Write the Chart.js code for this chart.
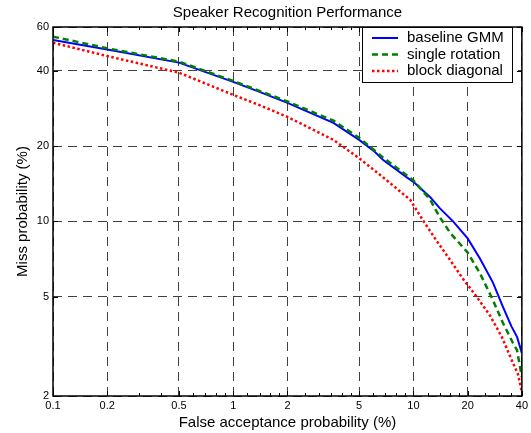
<!DOCTYPE html>
<html>
<head>
<meta charset="utf-8">
<script src="https://cdn.jsdelivr.net/npm/chart.js@4.4.1/dist/chart.umd.min.js"></script>
<style>
  html, body { margin: 0; padding: 0; background: #fff; }
</style>
</head>
<body>
<canvas id="detChart" width="531" height="433"></canvas>
<script>
// ── DATA ──────────────────────────────────────────────────────
const xTicks = [0.1, 0.2, 0.5, 1, 2, 5, 10, 20, 40];
const yTicks = [2, 5, 10, 20, 40, 60];
const xMinorTicks = [0.3, 0.4, 0.6, 0.7, 0.8, 0.9, 1.2, 1.4, 1.6, 1.8, 2.5, 3, 3.5, 4, 4.5, 6, 7, 8, 9, 12, 14, 16, 18, 25, 30, 35];

const seriesNames = ["baseline GMM", "single rotation", "block diagonal"];

// false acceptance (%) / miss (%) pairs per system
const blueFa   = [0.1, 0.2, 0.5, 1, 1.4, 2, 3.6, 5, 6.1, 6.8, 9.2, 10, 12.4, 14, 16.6, 20, 23.4, 27.6, 31.4, 35, 37.6, 40];
const blueMiss = [53.2, 48.8, 43.2, 36.2, 33.0, 29.8, 24.8, 21.2, 19.0, 17.6, 15.0, 14.4, 12.5, 11.3, 10.0, 8.55, 7.1, 5.7, 4.55, 3.8, 3.45, 2.97];

const greenFa   = [0.1, 0.2, 0.5, 1, 2, 3.6, 5, 6.8, 10, 12.4, 14, 16, 20, 23.4, 27.6, 31.4, 35.7, 37.6, 40];
const greenMiss = [54.9, 49.3, 43.6, 36.5, 30.2, 25.3, 21.6, 18.0, 14.6, 12.2, 10.4, 9.0, 7.5, 6.2, 4.85, 3.92, 3.26, 3.05, 2.38];

const redFa   = [0.1, 0.2, 0.5, 1, 1.4, 2, 3.6, 5, 6.8, 9.6, 11.3, 13.4, 16, 18.8, 22.5, 26.6, 31, 35, 38, 40];
const redMiss = [51.9, 45.9, 39.4, 32.1, 29.2, 26.2, 21.2, 17.9, 15.0, 12.2, 10.1, 8.4, 7.0, 5.9, 4.98, 4.2, 3.44, 2.8, 2.45, 2.08];

const FONT = "'Liberation Sans', Arial, Helvetica, sans-serif";
Chart.defaults.font.family = FONT;
Chart.defaults.color = "#000";

function pairs(xs, ys) {
  return xs.map((x, i) => ({ x: x, y: ys[i] }));
}

// ── FRAME, TICKS, TITLE, LEGEND (matlab look) ────────────────
const matlabFrame = {
  id: "matlabFrame",
  afterDraw(chart) {
    const ctx = chart.ctx;
    const a = chart.chartArea;
    const sx = chart.scales.x, sy = chart.scales.y;

    ctx.save();
    ctx.strokeStyle = "#000";
    ctx.lineWidth = 1;

    // tick marks inward, all 4 sides
    ctx.beginPath();
    xTicks.forEach(v => {
      const p = Math.round(sx.getPixelForValue(v)) + 0.5;
      ctx.moveTo(p, a.bottom); ctx.lineTo(p, a.bottom - 5);
      ctx.moveTo(p, a.top);    ctx.lineTo(p, a.top + 5);
    });
    xMinorTicks.forEach(v => {
      const p = Math.round(sx.getPixelForValue(v)) + 0.5;
      ctx.moveTo(p, a.bottom); ctx.lineTo(p, a.bottom - 3);
      ctx.moveTo(p, a.top);    ctx.lineTo(p, a.top + 3);
    });
    yTicks.forEach(v => {
      const p = Math.round(sy.getPixelForValue(v)) + 0.5;
      ctx.moveTo(a.left, p);  ctx.lineTo(a.left + 5, p);
      ctx.moveTo(a.right, p); ctx.lineTo(a.right - 5, p);
    });
    ctx.stroke();

    // box
    ctx.lineWidth = 1.5;
    ctx.strokeRect(a.left, a.top, a.right - a.left, a.bottom - a.top);

    // title
    ctx.fillStyle = "#000";
    ctx.font = "15px " + FONT;
    ctx.textAlign = "center";
    ctx.textBaseline = "middle";
    ctx.fillText("Speaker Recognition Performance", (a.left + a.right) / 2, 13);

    // legend box
    const lx = 362, ly = 27, lw = 150, lh = 55;
    ctx.fillStyle = "#fff";
    ctx.fillRect(lx, ly, lw, lh);
    ctx.lineWidth = 1;
    ctx.strokeStyle = "#000";
    ctx.strokeRect(lx + 0.5, ly + 0.5, lw, lh);

    const rowY = [38, 54.5, 71];
    chart.data.datasets.forEach((ds, i) => {
      ctx.beginPath();
      ctx.strokeStyle = ds.borderColor;
      ctx.lineWidth = ds.borderWidth;
      ctx.setLineDash(ds.borderDash || []);
      ctx.moveTo(372, rowY[i]);
      ctx.lineTo(398, rowY[i]);
      ctx.stroke();
      ctx.setLineDash([]);
      ctx.fillStyle = "#000";
      ctx.textAlign = "left";
      ctx.fillText(ds.label, 407, rowY[i]);
    });
    ctx.restore();
  }
};

// ── CHART ─────────────────────────────────────────────────────
new Chart(document.getElementById("detChart").getContext("2d"), {
  type: "line",
  data: {
    datasets: [
      {
        label: seriesNames[0],
        data: pairs(blueFa, blueMiss),
        borderColor: "#0000ff",
        borderWidth: 2,
        pointRadius: 0,
        tension: 0,
        fill: false,
        order: 2,
      },
      {
        label: seriesNames[1],
        data: pairs(greenFa, greenMiss),
        borderColor: "#008000",
        borderWidth: 2.5,
        borderDash: [6, 4],
        pointRadius: 0,
        tension: 0,
        fill: false,
        order: 1,
      },
      {
        label: seriesNames[2],
        data: pairs(redFa, redMiss),
        borderColor: "#ff0000",
        borderWidth: 2.5,
        borderDash: [2.5, 2.5],
        pointRadius: 0,
        tension: 0,
        fill: false,
        order: 0,
      },
    ],
  },
  options: {
    responsive: false,
    animation: false,
    layout: { padding: { top: 27, right: 9, bottom: 0, left: 0 } },
    plugins: {
      legend: { display: false },
      title: { display: false },
      tooltip: { enabled: false },
    },
    scales: {
      x: {
        type: "logarithmic",
        min: 0.1,
        max: 40,
        bounds: "data",
        afterBuildTicks: s => { s.ticks = xTicks.map(v => ({ value: v })); },
        afterFit: s => { s.height = 37; },
        ticks: {
          autoSkip: false,
          maxRotation: 0,
          padding: 3,
          font: { size: 11 },
          color: "#000",
          callback: v => String(v),
        },
        grid: { color: "#404040", lineWidth: 1, drawTicks: false },
        border: { display: false, dash: [9, 6] },
        title: {
          display: true,
          text: "False acceptance probability (%)",
          font: { size: 15 },
          color: "#000",
          padding: { top: 0, bottom: 1 },
        },
      },
      y: {
        type: "logarithmic",
        min: 2,
        max: 60,
        bounds: "data",
        afterBuildTicks: s => { s.ticks = yTicks.map(v => ({ value: v })); },
        afterFit: s => { s.width = 53; },
        ticks: {
          autoSkip: false,
          padding: 4,
          font: { size: 11 },
          color: "#000",
          callback: v => String(v),
        },
        grid: { color: "#404040", lineWidth: 1, drawTicks: false },
        border: { display: false, dash: [9, 6] },
        title: {
          display: true,
          text: "Miss probability (%)",
          font: { size: 15 },
          color: "#000",
          padding: { top: 14, bottom: 0 },
        },
      },
    },
  },
  plugins: [matlabFrame],
});
</script>
</body>
</html>
